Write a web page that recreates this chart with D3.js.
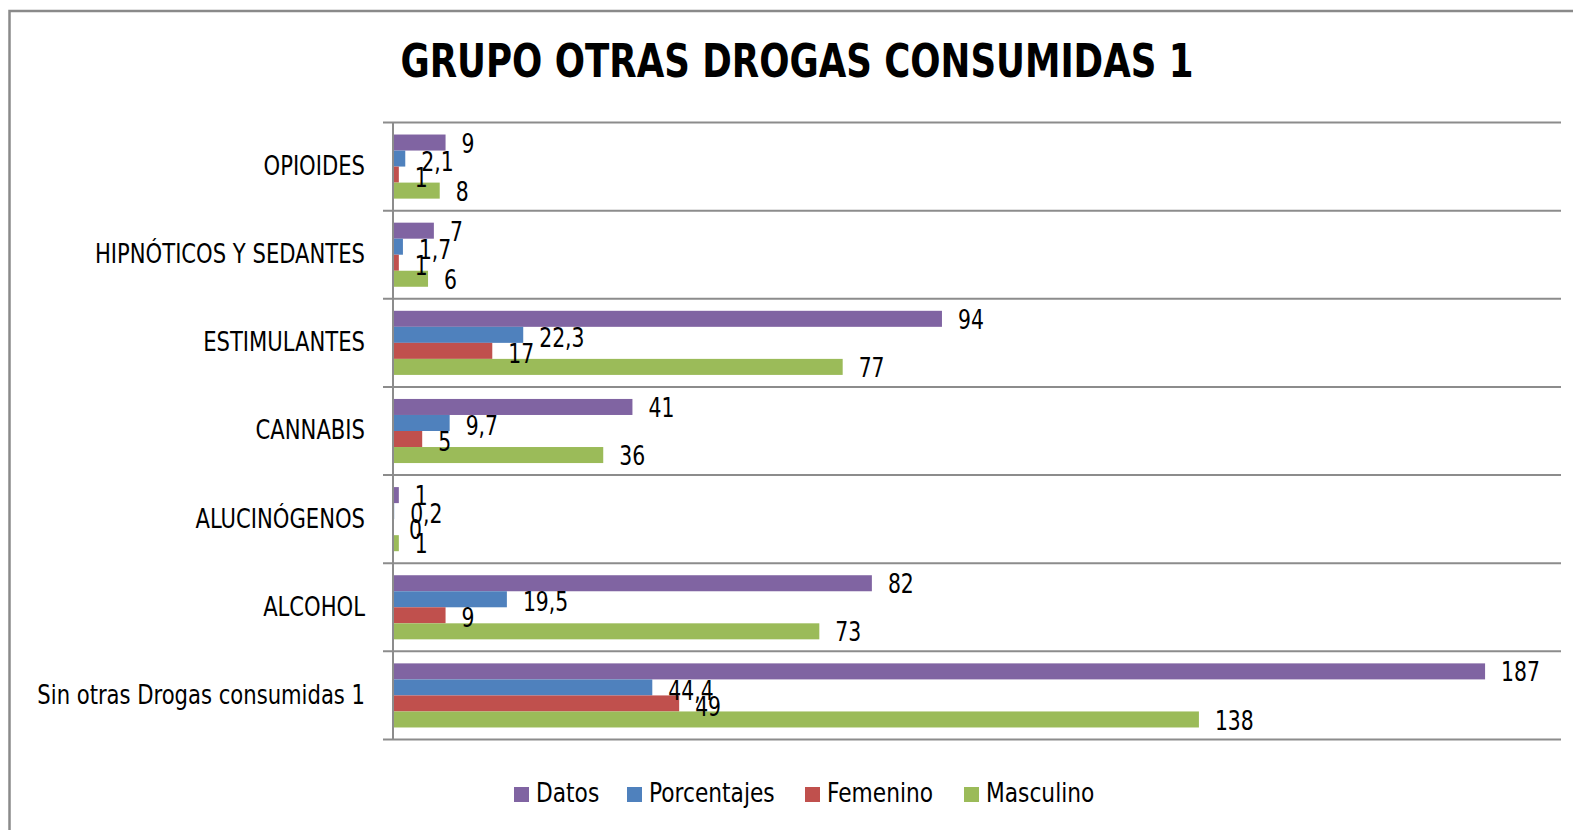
<!DOCTYPE html>
<html>
<head>
<meta charset="utf-8">
<script src="https://cdn.jsdelivr.net/npm/d3@7"></script>
<style>
  body { margin: 0; background: #fff; }
  text { font-family: "Liberation Sans Narrow", "Arial Narrow", "DejaVu Sans Condensed", sans-serif; fill: #000; }
</style>
</head>
<body>
<div class="chart"></div>
<script>
var categories = ["OPIOIDES", "HIPNÓTICOS Y SEDANTES", "ESTIMULANTES", "CANNABIS",
                  "ALUCINÓGENOS", "ALCOHOL", "Sin otras Drogas consumidas 1"];
var seriesNames = ["Datos", "Porcentajes", "Femenino", "Masculino"];
var datos       = [9, 7, 94, 41, 1, 82, 187];
var porcentajes = [2.1, 1.7, 22.3, 9.7, 0.2, 19.5, 44.4];
var femenino    = [1, 1, 17, 5, 0, 9, 49];
var masculino   = [8, 6, 77, 36, 1, 73, 138];
var seriesColors = ["#8064A2", "#4F81BD", "#C0504D", "#9BBB59"];

var svgWidth = 1573;
var svgHeight = 830;
var squeeze = 0.87;   // the original font is narrower than what we have installed

var svg = d3.select(".chart")
  .append("svg")
  .attr("width", svgWidth)
  .attr("height", svgHeight);

function placed(x, y, s) {
  return "translate(" + x + "," + y + ") scale(" + (s || squeeze) + ",1)";
}

// outer chart border (only left and top are visible in the frame)
svg.append("path")
  .attr("d", "M9.5,830 L9.5,11 L1573,11")
  .attr("fill", "none")
  .attr("stroke", "#8a8a8a")
  .attr("stroke-width", 2.5);

svg.append("text")
  .attr("x", 797)
  .attr("y", 77)
  .attr("text-anchor", "middle")
  .attr("textLength", 793)
  .attr("lengthAdjust", "spacingAndGlyphs")
  .style("font-size", "46px")
  .style("font-weight", "bold")
  .text("GRUPO OTRAS DROGAS CONSUMIDAS 1");

var values = [datos, porcentajes, femenino, masculino];
var rows = categories.map(function(c, i) {
  return { cat: c, vals: seriesNames.map(function(s, j) { return { name: s, idx: j, v: values[j][i] }; }) };
});

var xScale = d3.scaleLinear().domain([0, 200]).range([393, 1561]);
var yScale = d3.scaleBand().domain(categories).range([122.5, 739.5]);
var ySub = d3.scaleBand().domain(seriesNames).range([0, yScale.bandwidth()]).paddingOuter(0.75);

// gridlines at category boundaries
var bounds = categories.map(function(c) { return yScale(c); }).concat([yScale.range()[1]]);
svg.append("g").selectAll("line")
  .data(bounds)
  .enter()
  .append("line")
  .attr("x1", 383)
  .attr("x2", 1561)
  .attr("y1", function(d) { return d; })
  .attr("y2", function(d) { return d; })
  .attr("stroke", "#8c8c8c")
  .attr("stroke-width", 2);

// category labels
svg.append("g").selectAll("text")
  .data(categories)
  .enter()
  .append("text")
  .attr("transform", function(d) { return placed(365, yScale(d) + yScale.bandwidth() / 2 - 1); })
  .attr("dy", "0.35em")
  .attr("text-anchor", "end")
  .style("font-size", "27px")
  .text(function(d) { return d; });

var groups = svg.append("g").selectAll("g")
  .data(rows)
  .enter()
  .append("g")
  .attr("transform", function(d) { return "translate(0," + yScale(d.cat) + ")"; });

groups.selectAll("rect")
  .data(function(d) { return d.vals; })
  .enter()
  .append("rect")
  .attr("x", xScale(0))
  .attr("y", function(d) { return ySub(d.name); })
  .attr("width", function(d) { return xScale(d.v) - xScale(0); })
  .attr("height", ySub.bandwidth())
  .attr("fill", function(d) { return seriesColors[d.idx]; });

groups.selectAll("text")
  .data(function(d) { return d.vals; })
  .enter()
  .append("text")
  .attr("transform", function(d) {
    return placed(xScale(d.v) + 16, ySub(d.name) + ySub.bandwidth() / 2 + 1 + (d.idx === 1 || d.idx === 2 ? 2 : 0));
  })
  .attr("dy", "0.35em")
  .style("font-size", "26px")
  .text(function(d) { return String(d.v).replace(".", ","); });

// axis line
svg.append("line")
  .attr("x1", xScale(0))
  .attr("x2", xScale(0))
  .attr("y1", 122)
  .attr("y2", 740)
  .attr("stroke", "#8c8c8c")
  .attr("stroke-width", 2);

// legend
var legendX = [514, 627, 805, 964];
var legend = svg.append("g").selectAll("g")
  .data(seriesNames)
  .enter()
  .append("g")
  .attr("transform", function(d, i) { return "translate(" + legendX[i] + ",787)"; });

legend.append("rect")
  .attr("width", 15)
  .attr("height", 15)
  .attr("fill", function(d, i) { return seriesColors[i]; });

legend.append("text")
  .attr("transform", placed(22, 15, 0.93))
  .style("font-size", "26px")
  .text(function(d) { return d; });
</script>
</body>
</html>
